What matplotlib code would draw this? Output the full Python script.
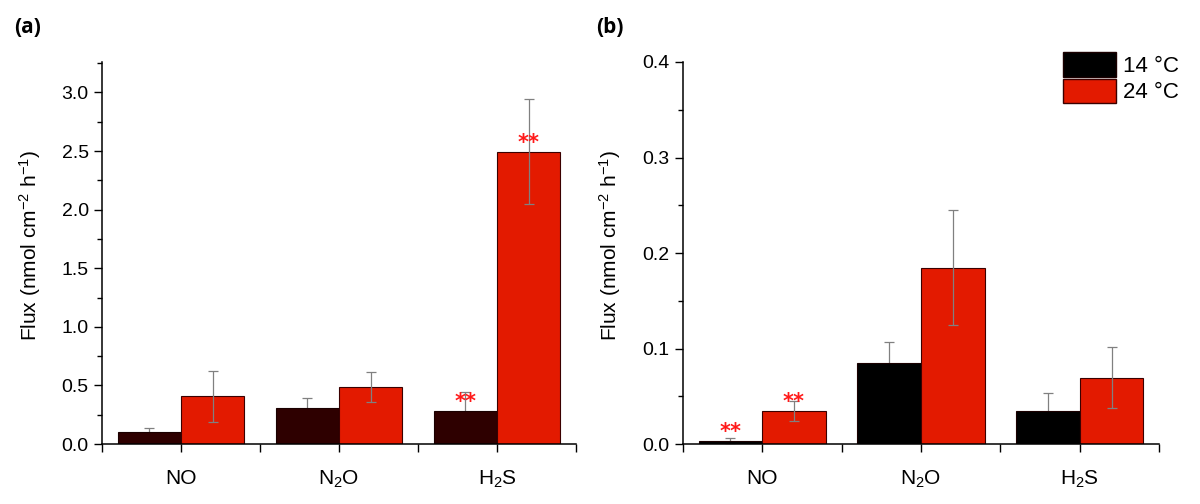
import matplotlib
matplotlib.use("Agg")
import matplotlib.pyplot as plt
from matplotlib.ticker import MultipleLocator, FixedLocator
from matplotlib.patches import Patch
import numpy as np

plt.rcParams['font.family'] = ['Liberation Sans', 'DejaVu Sans']
plt.rcParams['mathtext.fontset'] = 'custom'
plt.rcParams['mathtext.rm'] = 'Liberation Sans'
plt.rcParams['mathtext.it'] = 'Liberation Sans:italic'
plt.rcParams['mathtext.bf'] = 'Liberation Sans:bold'

categories = ['NO', 'N$_2$O', 'H$_2$S']
series_names = ['14 °C', '24 °C']

# Panel (a)
a_14 = [0.105, 0.304, 0.284]
a_14_err = [0.035, 0.09, 0.16]
a_24 = [0.407, 0.486, 2.496]
a_24_err = [0.22, 0.13, 0.445]
a_14_sig = ['', '', '**']
a_24_sig = ['', '', '**']

# Panel (b)
b_14 = [0.0035, 0.085, 0.035]
b_14_err = [0.0028, 0.022, 0.0185]
b_24 = [0.035, 0.1848, 0.0696]
b_24_err = [0.0105, 0.0605, 0.032]
b_14_sig = ['**', '', '']
b_24_sig = ['**', '', '']

RED = '#e31a00'
fig = plt.figure(figsize=(12, 5.04), dpi=100)

def panel(ax, v14, e14, v24, e24, s14, s24, c14, ylim, major, minor, fmt):
    x = np.arange(1, len(categories) + 1)
    w = 0.4
    ax.errorbar(x - w / 2, v14, yerr=e14, fmt='none', ecolor='#808080', elinewidth=0.9,
                capsize=3.5, capthick=0.9, zorder=1)
    ax.bar(x - w / 2, v14, width=w, color=c14, edgecolor='#1a0000', linewidth=0.8, zorder=2)
    ax.bar(x + w / 2, v24, width=w, color=RED, edgecolor='#3a0000', linewidth=0.8, zorder=2)
    ax.errorbar(x + w / 2, v24, yerr=e24, fmt='none', ecolor='#808080', elinewidth=0.9,
                capsize=3.5, capthick=0.9, zorder=3)
    for xs, vals, sigs in ((x - w / 2, v14, s14), (x + w / 2, v24, s24)):
        for xi, v, s in zip(xs, vals, sigs):
            if s:
                ax.annotate(s, (xi, v), xytext=(0, 6), textcoords='offset points', ha='center',
                            va='center', color='#ff1a1a', fontsize=15, fontweight='bold',
                            family='DejaVu Sans', zorder=4)
    ax.set_xlim(0.5, 3.5)
    ax.set_ylim(*ylim)
    ax.set_xticks(x)
    ax.set_xticklabels(categories, fontsize=15)
    ax.xaxis.set_minor_locator(FixedLocator([0.5, 1.5, 2.5, 3.5]))
    ax.yaxis.set_major_locator(MultipleLocator(major))
    ax.yaxis.set_minor_locator(MultipleLocator(minor))
    ax.yaxis.set_major_formatter(plt.FormatStrFormatter(fmt))
    ax.tick_params(axis='y', which='major', length=6, width=1, labelsize=14, direction='out')
    ax.tick_params(axis='y', which='minor', length=3.5, width=1, direction='out')
    ax.tick_params(axis='x', which='both', length=6, width=1, direction='out', pad=12)
    for sp in ['top', 'right']:
        ax.spines[sp].set_visible(False)
    for sp in ['left', 'bottom']:
        ax.spines[sp].set_linewidth(1.1)
    ax.set_ylabel('Flux (nmol cm$^{-2}$ h$^{-1}$)', fontsize=15)

ax1 = fig.add_axes([0.085, 0.119, 0.395, 0.758])
panel(ax1, a_14, a_14_err, a_24, a_24_err, a_14_sig, a_24_sig, '#2e0000',
      (0, 3.26), 0.5, 0.25, '%.1f')
ax1.yaxis.set_label_coords(-0.125, 0.52)

ax2 = fig.add_axes([0.569, 0.119, 0.397, 0.758])
panel(ax2, b_14, b_14_err, b_24, b_24_err, b_14_sig, b_24_sig, '#000000',
      (0, 0.4), 0.1, 0.05, '%.1f')
ax2.yaxis.set_label_coords(-0.125, 0.52)

handles = [Patch(facecolor='#000000', edgecolor='#1a0000'),
           Patch(facecolor=RED, edgecolor='#3a0000')]
ax2.legend(handles, series_names, loc='upper right', bbox_to_anchor=(1.06, 1.05),
           frameon=False, fontsize=16, handlelength=2.4, handleheight=1.35,
           handletextpad=0.3, labelspacing=0.08, borderaxespad=0)

fig.text(0.012, 0.946, '(a)', fontsize=15, fontweight='bold', family='Open Sans', va='center')
fig.text(0.497, 0.946, '(b)', fontsize=15, fontweight='bold', family='Open Sans', va='center')

fig.savefig('out.png', dpi=100)
